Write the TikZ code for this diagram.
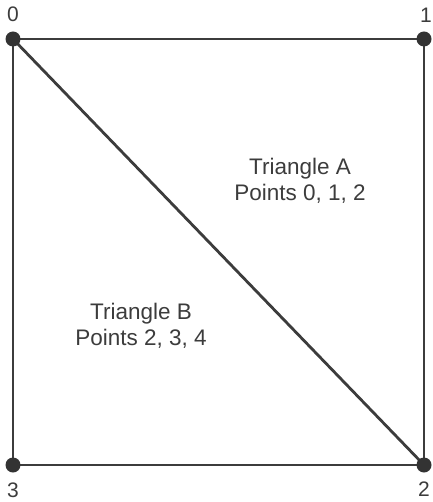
\documentclass[tikz,border=0pt]{standalone}
\usepackage{fontspec}
\setmainfont{Liberation Sans}
\usetikzlibrary{positioning}
\definecolor{trait}{HTML}{3c3c3c}
\definecolor{plein}{HTML}{333333}
\tikzset{epais/.style={line width=2.8pt}}
\newcommand{\sommet}[2]{\node[pt] (#1) at (#2) {}}
\newcommand{\cote}[2]{\draw[epais,trait] (#1) -- (#2)}

\begin{document}
\begin{tikzpicture}[x=1pt,y=-1pt,
	pt/.style={circle,fill=plein,inner sep=0pt,minimum size=15pt},
	etiq/.style={inner sep=0pt,text=trait,font=\fontsize{21}{25}\selectfont},
	legende/.style={align=center,text=trait,font=\fontsize{22.5}{25.5}\selectfont}]
\useasboundingbox (0,0) rectangle (432,502);
%
	\coordinate (c0) at (13,39);
	\coordinate (c1) at (424,39);
	\coordinate (c2) at (424,465);
	\coordinate (c3) at (13,465);
%
	\cote{c0}{c1};
	\cote{c1}{c2};
	\cote{c2}{c3};
	\cote{c3}{c0};
	\cote{c0}{c2};
%
	\sommet{p0}{c0};
	\sommet{p1}{c1};
	\sommet{p2}{c2};
	\sommet{p3}{c3};
%
	\node[etiq,above=9pt of p0] (l0) {0};
	\node[etiq,above=9pt of p1,xshift=2pt] (l1) {1};
	\node[etiq,below=9pt of p2] (l2) {2};
	\node[etiq,below=10pt of p3] (l3) {3};
%
	\node[legende] (triA) at (300,181) {Triangle A\\Points 0, 1, 2};
	\node[legende] (triB) at (141,326) {Triangle B\\Points 2, 3, 4};
%
\end{tikzpicture}
\end{document}
